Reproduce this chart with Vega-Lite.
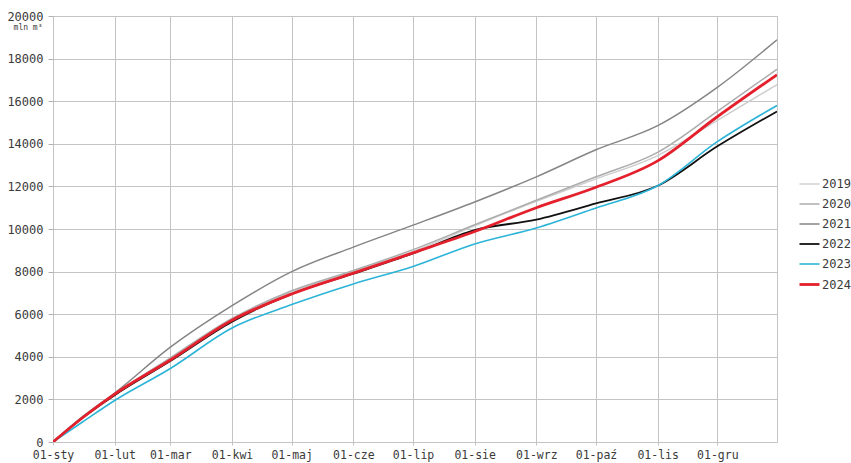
{
  "$schema": "https://vega.github.io/schema/vega-lite/v6.json",
  "width": 724,
  "height": 426,
  "autosize": {"type": "none"},
  "padding": {"left": 53, "top": 16, "right": 74, "bottom": 21},
  "background": "white",
  "config": {
    "view": {"stroke": "#c4c4c4", "strokeWidth": 1},
    "font": "DejaVu Sans Mono"
  },
  "data": {
    "values": [
      {"d": "2001-01-01T00:00:00", "rok": "2019", "v": 0},
      {"d": "2001-01-16T00:00:00", "rok": "2019", "v": 1150},
      {"d": "2001-02-01T00:00:00", "rok": "2019", "v": 2250},
      {"d": "2001-03-01T00:00:00", "rok": "2019", "v": 3900},
      {"d": "2001-04-01T00:00:00", "rok": "2019", "v": 5750},
      {"d": "2001-05-01T00:00:00", "rok": "2019", "v": 7050},
      {"d": "2001-06-01T00:00:00", "rok": "2019", "v": 8000},
      {"d": "2001-07-01T00:00:00", "rok": "2019", "v": 8950},
      {"d": "2001-08-01T00:00:00", "rok": "2019", "v": 10150},
      {"d": "2001-09-01T00:00:00", "rok": "2019", "v": 11300},
      {"d": "2001-10-01T00:00:00", "rok": "2019", "v": 12350},
      {"d": "2001-11-01T00:00:00", "rok": "2019", "v": 13450},
      {"d": "2001-12-01T00:00:00", "rok": "2019", "v": 15100},
      {"d": "2001-12-31T00:00:00", "rok": "2019", "v": 16780},

      {"d": "2001-01-01T00:00:00", "rok": "2020", "v": 0},
      {"d": "2001-01-16T00:00:00", "rok": "2020", "v": 1150},
      {"d": "2001-02-01T00:00:00", "rok": "2020", "v": 2250},
      {"d": "2001-03-01T00:00:00", "rok": "2020", "v": 3950},
      {"d": "2001-04-01T00:00:00", "rok": "2020", "v": 5800},
      {"d": "2001-05-01T00:00:00", "rok": "2020", "v": 7100},
      {"d": "2001-06-01T00:00:00", "rok": "2020", "v": 8050},
      {"d": "2001-07-01T00:00:00", "rok": "2020", "v": 9030},
      {"d": "2001-08-01T00:00:00", "rok": "2020", "v": 10200},
      {"d": "2001-09-01T00:00:00", "rok": "2020", "v": 11350},
      {"d": "2001-10-01T00:00:00", "rok": "2020", "v": 12450},
      {"d": "2001-11-01T00:00:00", "rok": "2020", "v": 13600},
      {"d": "2001-12-01T00:00:00", "rok": "2020", "v": 15520},
      {"d": "2001-12-31T00:00:00", "rok": "2020", "v": 17500},

      {"d": "2001-01-01T00:00:00", "rok": "2021", "v": 0},
      {"d": "2001-01-16T00:00:00", "rok": "2021", "v": 1200},
      {"d": "2001-02-01T00:00:00", "rok": "2021", "v": 2300},
      {"d": "2001-03-01T00:00:00", "rok": "2021", "v": 4450},
      {"d": "2001-04-01T00:00:00", "rok": "2021", "v": 6400},
      {"d": "2001-05-01T00:00:00", "rok": "2021", "v": 8000},
      {"d": "2001-06-01T00:00:00", "rok": "2021", "v": 9150},
      {"d": "2001-07-01T00:00:00", "rok": "2021", "v": 10180},
      {"d": "2001-08-01T00:00:00", "rok": "2021", "v": 11270},
      {"d": "2001-09-01T00:00:00", "rok": "2021", "v": 12450},
      {"d": "2001-10-01T00:00:00", "rok": "2021", "v": 13720},
      {"d": "2001-11-01T00:00:00", "rok": "2021", "v": 14850},
      {"d": "2001-12-01T00:00:00", "rok": "2021", "v": 16650},
      {"d": "2001-12-31T00:00:00", "rok": "2021", "v": 18880},

      {"d": "2001-01-01T00:00:00", "rok": "2022", "v": 0},
      {"d": "2001-01-16T00:00:00", "rok": "2022", "v": 1150},
      {"d": "2001-02-01T00:00:00", "rok": "2022", "v": 2200},
      {"d": "2001-03-01T00:00:00", "rok": "2022", "v": 3800},
      {"d": "2001-04-01T00:00:00", "rok": "2022", "v": 5650},
      {"d": "2001-05-01T00:00:00", "rok": "2022", "v": 6950},
      {"d": "2001-06-01T00:00:00", "rok": "2022", "v": 7900},
      {"d": "2001-07-01T00:00:00", "rok": "2022", "v": 8850},
      {"d": "2001-08-01T00:00:00", "rok": "2022", "v": 9950},
      {"d": "2001-09-01T00:00:00", "rok": "2022", "v": 10440},
      {"d": "2001-10-01T00:00:00", "rok": "2022", "v": 11200},
      {"d": "2001-11-01T00:00:00", "rok": "2022", "v": 12030},
      {"d": "2001-12-01T00:00:00", "rok": "2022", "v": 13880},
      {"d": "2001-12-31T00:00:00", "rok": "2022", "v": 15520},

      {"d": "2001-01-01T00:00:00", "rok": "2023", "v": 0},
      {"d": "2001-01-16T00:00:00", "rok": "2023", "v": 950},
      {"d": "2001-02-01T00:00:00", "rok": "2023", "v": 1950},
      {"d": "2001-03-01T00:00:00", "rok": "2023", "v": 3450},
      {"d": "2001-04-01T00:00:00", "rok": "2023", "v": 5350},
      {"d": "2001-05-01T00:00:00", "rok": "2023", "v": 6450},
      {"d": "2001-06-01T00:00:00", "rok": "2023", "v": 7420},
      {"d": "2001-07-01T00:00:00", "rok": "2023", "v": 8240},
      {"d": "2001-08-01T00:00:00", "rok": "2023", "v": 9300},
      {"d": "2001-09-01T00:00:00", "rok": "2023", "v": 10050},
      {"d": "2001-10-01T00:00:00", "rok": "2023", "v": 10990},
      {"d": "2001-11-01T00:00:00", "rok": "2023", "v": 12030},
      {"d": "2001-12-01T00:00:00", "rok": "2023", "v": 14100},
      {"d": "2001-12-31T00:00:00", "rok": "2023", "v": 15800},

      {"d": "2001-01-01T00:00:00", "rok": "2024", "v": 0},
      {"d": "2001-01-16T00:00:00", "rok": "2024", "v": 1150},
      {"d": "2001-02-01T00:00:00", "rok": "2024", "v": 2250},
      {"d": "2001-03-01T00:00:00", "rok": "2024", "v": 3850},
      {"d": "2001-04-01T00:00:00", "rok": "2024", "v": 5720},
      {"d": "2001-05-01T00:00:00", "rok": "2024", "v": 6950},
      {"d": "2001-06-01T00:00:00", "rok": "2024", "v": 7930},
      {"d": "2001-07-01T00:00:00", "rok": "2024", "v": 8880},
      {"d": "2001-08-01T00:00:00", "rok": "2024", "v": 9880},
      {"d": "2001-09-01T00:00:00", "rok": "2024", "v": 11000},
      {"d": "2001-10-01T00:00:00", "rok": "2024", "v": 11960},
      {"d": "2001-11-01T00:00:00", "rok": "2024", "v": 13200},
      {"d": "2001-12-01T00:00:00", "rok": "2024", "v": 15270},
      {"d": "2001-12-31T00:00:00", "rok": "2024", "v": 17240}
    ]
  },
  "mark": {"type": "line", "interpolate": "monotone", "clip": true},
  "encoding": {
    "x": {
      "field": "d",
      "type": "temporal",
      "scale": {"domain": [{"year": 2001, "month": 1, "date": 1}, {"year": 2001, "month": 12, "date": 31}]},
      "axis": {
        "title": null,
        "domain": false,
        "values": [
          {"year": 2001, "month": 1, "date": 1},
          {"year": 2001, "month": 2, "date": 1},
          {"year": 2001, "month": 3, "date": 1},
          {"year": 2001, "month": 4, "date": 1},
          {"year": 2001, "month": 5, "date": 1},
          {"year": 2001, "month": 6, "date": 1},
          {"year": 2001, "month": 7, "date": 1},
          {"year": 2001, "month": 8, "date": 1},
          {"year": 2001, "month": 9, "date": 1},
          {"year": 2001, "month": 10, "date": 1},
          {"year": 2001, "month": 11, "date": 1},
          {"year": 2001, "month": 12, "date": 1}
        ],
        "labelExpr": "'01-' + ['sty','lut','mar','kwi','maj','cze','lip','sie','wrz','paź','lis','gru'][month(datum.value)]",
        "labelFont": "DejaVu Sans Mono",
        "labelFontSize": 11.5,
        "labelColor": "#3a3a3a",
        "labelPadding": 4,
        "labelFlush": false,
        "labelOverlap": false,
        "tickSize": 3,
        "tickColor": "#c4c4c4",
        "gridColor": "#c4c4c4",
        "gridOpacity": 1
      }
    },
    "y": {
      "field": "v",
      "type": "quantitative",
      "scale": {"domain": [0, 20000], "nice": false},
      "axis": {
        "title": "mln m³",
        "titleAngle": 0,
        "titleAlign": "right",
        "titleBaseline": "middle",
        "titleX": -11,
        "titleY": 11,
        "titleFont": "DejaVu Sans Mono",
        "titleFontSize": 8,
        "titleFontWeight": "normal",
        "titleColor": "#3a3a3a",
        "domain": false,
        "values": [0, 2000, 4000, 6000, 8000, 10000, 12000, 14000, 16000, 18000, 20000],
        "format": "d",
        "labelFont": "DejaVu Sans Mono",
        "labelFontSize": 12,
        "labelColor": "#3a3a3a",
        "labelPadding": 5,
        "labelFlush": false,
        "tickSize": 5,
        "tickColor": "#b0b0b0",
        "gridColor": "#c4c4c4",
        "gridOpacity": 1
      }
    },
    "color": {
      "field": "rok",
      "type": "nominal",
      "scale": {
        "domain": ["2019", "2020", "2021", "2022", "2023", "2024"],
        "range": ["#cdcdcd", "#acacac", "#858585", "#111111", "#2cb4d8", "#e4202c"]
      },
      "legend": {
        "title": null,
        "orient": "none",
        "legendX": 745,
        "legendY": 157,
        "padding": 0,
        "symbolType": "stroke",
        "symbolSize": 400,
        "rowPadding": 3,
        "labelOffset": 1,
        "labelFont": "DejaVu Sans Mono",
        "labelFontSize": 12,
        "labelColor": "#3a3a3a"
      }
    },
    "strokeWidth": {
      "field": "rok",
      "type": "nominal",
      "scale": {
        "type": "ordinal",
        "domain": ["2019", "2020", "2021", "2022", "2023", "2024"],
        "range": [1.4, 1.5, 1.5, 1.8, 1.6, 2.8]
      },
      "legend": {
        "title": null,
        "orient": "none",
        "legendX": 745,
        "legendY": 157,
        "padding": 0,
        "symbolType": "stroke",
        "symbolSize": 400,
        "rowPadding": 3,
        "labelOffset": 1,
        "labelFont": "DejaVu Sans Mono",
        "labelFontSize": 12,
        "labelColor": "#3a3a3a"
      }
    }
  }
}
